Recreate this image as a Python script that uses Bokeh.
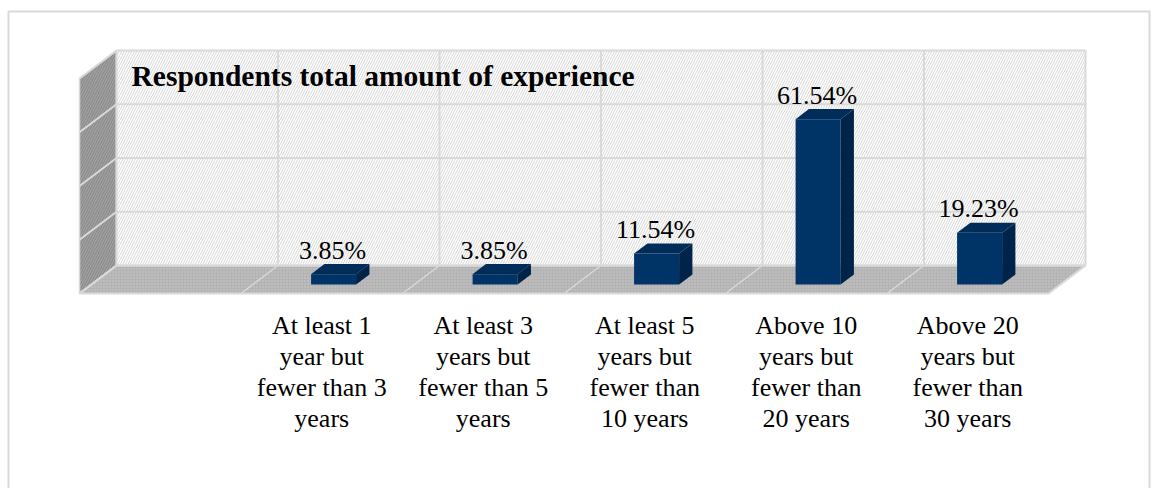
import textwrap
from bokeh.plotting import figure
from bokeh.models import Range1d, ColumnDataSource
from bokeh.core.properties import value
from bokeh.embed import file_html
from bokeh.resources import INLINE

# ---------------- data ----------------
TITLE = "Respondents total amount of experience"
CATEGORIES = [
    "",
    "At least 1 year but fewer than 3 years",
    "At least 3 years but fewer than 5 years",
    "At least 5 years but fewer than 10 years",
    "Above 10 years but fewer than 20 years",
    "Above 20 years but fewer than 30 years",
]
VALUES = [None, 3.85, 3.85, 11.54, 61.54, 19.23]
VALUE_LABELS = ["", "3.85%", "3.85%", "11.54%", "61.54%", "19.23%"]
Y_TICKS = [0, 20, 40, 60, 80]

# ---------------- layout / style ----------------
W, H = 1159, 488
WALL_LEFT_PX = 116.0      # left edge of back wall (px)
COL_PX = 161.5            # width of one category slot (px)
BASE_PX = 265.0           # back-wall baseline (px from top)
PX_PER_UNIT = 2.6875      # px per percentage point
DEPTH_DX_PX, DEPTH_DY_PX = 37.0, 28.0
BAR_W_PX = 45.0
BAR_FRONT, BAR_BACK = 0.68, 0.32
FONT = "Liberation Serif"
GRID = "#d9d9d9"


def sx(px):
    return (px - WALL_LEFT_PX) / COL_PX


def sy(px):
    return (BASE_PX - px) / PX_PER_UNIT


DX = DEPTH_DX_PX / COL_PX
DY = DEPTH_DY_PX / PX_PER_UNIT
N = len(CATEGORIES)
Y_MAX = Y_TICKS[-1]

p = figure(width=W, height=H,
           x_range=Range1d(sx(0), sx(W)), y_range=Range1d(sy(H), sy(0)),
           output_backend="svg", toolbar_location=None,
           x_axis_location=None, y_axis_location=None,
           min_border=0, outline_line_color=None,
           background_fill_color="white", border_fill_color="white")
p.grid.visible = False

# outer chart border
p.quad(left=sx(8), right=sx(1149), top=sy(11), bottom=sy(H + 6),
       fill_color=None, line_color=GRID, line_width=2)

# side wall
p.patch(x=[-DX, 0, 0, -DX], y=[-DY, 0, Y_MAX, Y_MAX - DY],
        fill_color="#a0a0a0", hatch_pattern="/", hatch_color="#878787",
        hatch_scale=5, hatch_weight=1, line_color=GRID, line_width=1.5)

# back wall
p.quad(left=0, right=N, bottom=0, top=Y_MAX, fill_color="white",
       hatch_pattern="/", hatch_color="#d6d6d6", hatch_scale=5,
       hatch_weight=1, line_color=None)

# floor
p.patch(x=[0, N, N - DX, -DX], y=[0, 0, -DY, -DY],
        fill_color="#b3b3b3", hatch_pattern=".", hatch_color="#cdcdcd",
        hatch_scale=3, line_color=GRID, line_width=2)

# grid lines
p.multi_line(xs=[[0, N] for _ in Y_TICKS], ys=[[t, t] for t in Y_TICKS],
             line_color=GRID, line_width=2)
p.multi_line(xs=[[i, i] for i in range(N + 1)], ys=[[0, Y_MAX]] * (N + 1),
             line_color=GRID, line_width=2)
p.multi_line(xs=[[-DX, 0] for _ in Y_TICKS], ys=[[t - DY, t] for t in Y_TICKS],
             line_color=GRID, line_width=2)
p.multi_line(xs=[[i, i - DX] for i in range(N + 1)], ys=[[0, -DY]] * (N + 1),
             line_color=GRID, line_width=1.5)

# bars
hw = BAR_W_PX / COL_PX / 2
front = dict(left=[], right=[], bottom=[], top=[])
tops_x, tops_y, sides_x, sides_y = [], [], [], []
lab_x, lab_y, lab_t = [], [], []
for i, v in enumerate(VALUES):
    if v is None:
        continue
    c = i + 0.5
    fx, fy = c - BAR_FRONT * DX, -BAR_FRONT * DY
    bx, by = c - BAR_BACK * DX, -BAR_BACK * DY
    front["left"].append(fx - hw)
    front["right"].append(fx + hw)
    front["bottom"].append(fy)
    front["top"].append(fy + v)
    tops_x.append([fx - hw, fx + hw, bx + hw, bx - hw])
    tops_y.append([fy + v, fy + v, by + v, by + v])
    sides_x.append([fx + hw, bx + hw, bx + hw, fx + hw])
    sides_y.append([fy, by, by + v, fy + v])
    lab_x.append(fx - 1 / COL_PX)
    lab_y.append(by + v + 14 / PX_PER_UNIT)
    lab_t.append(VALUE_LABELS[i])

p.quad(source=ColumnDataSource(front), left="left", right="right",
       bottom="bottom", top="top", fill_color="#003366", line_color=None)
p.patches(xs=tops_x, ys=tops_y, fill_color="#002c5a", line_color=None)
p.patches(xs=sides_x, ys=sides_y, fill_color="#00234a", line_color=None)

p.text(x=lab_x, y=lab_y, text=lab_t, text_align="center",
       text_baseline="middle", text_font=value(FONT),
       text_font_size="26px", text_color="#000000")

# category labels (one text per line so spacing matches)
cat_x, cat_y, cat_t = [], [], []
LINE_PX = 31.0
for i, c in enumerate(CATEGORIES):
    for j, line in enumerate(textwrap.wrap(c, 12)):
        cat_x.append(i + 0.5 - DX)
        cat_y.append(sy(325 + j * LINE_PX))
        cat_t.append(line)
p.text(x=cat_x, y=cat_y, text=cat_t,
       text_align="center", text_baseline="middle",
       text_font=value(FONT), text_font_size="26px", text_color="#000000")

# title inside plot area
p.text(x=[sx(131)], y=[sy(75)], text=[TITLE], text_align="left",
       text_baseline="middle", text_font=value(FONT),
       text_font_size="29.5px", text_font_style="bold", text_color="#000000")

open("out.html", "w").write(file_html(p, INLINE))
